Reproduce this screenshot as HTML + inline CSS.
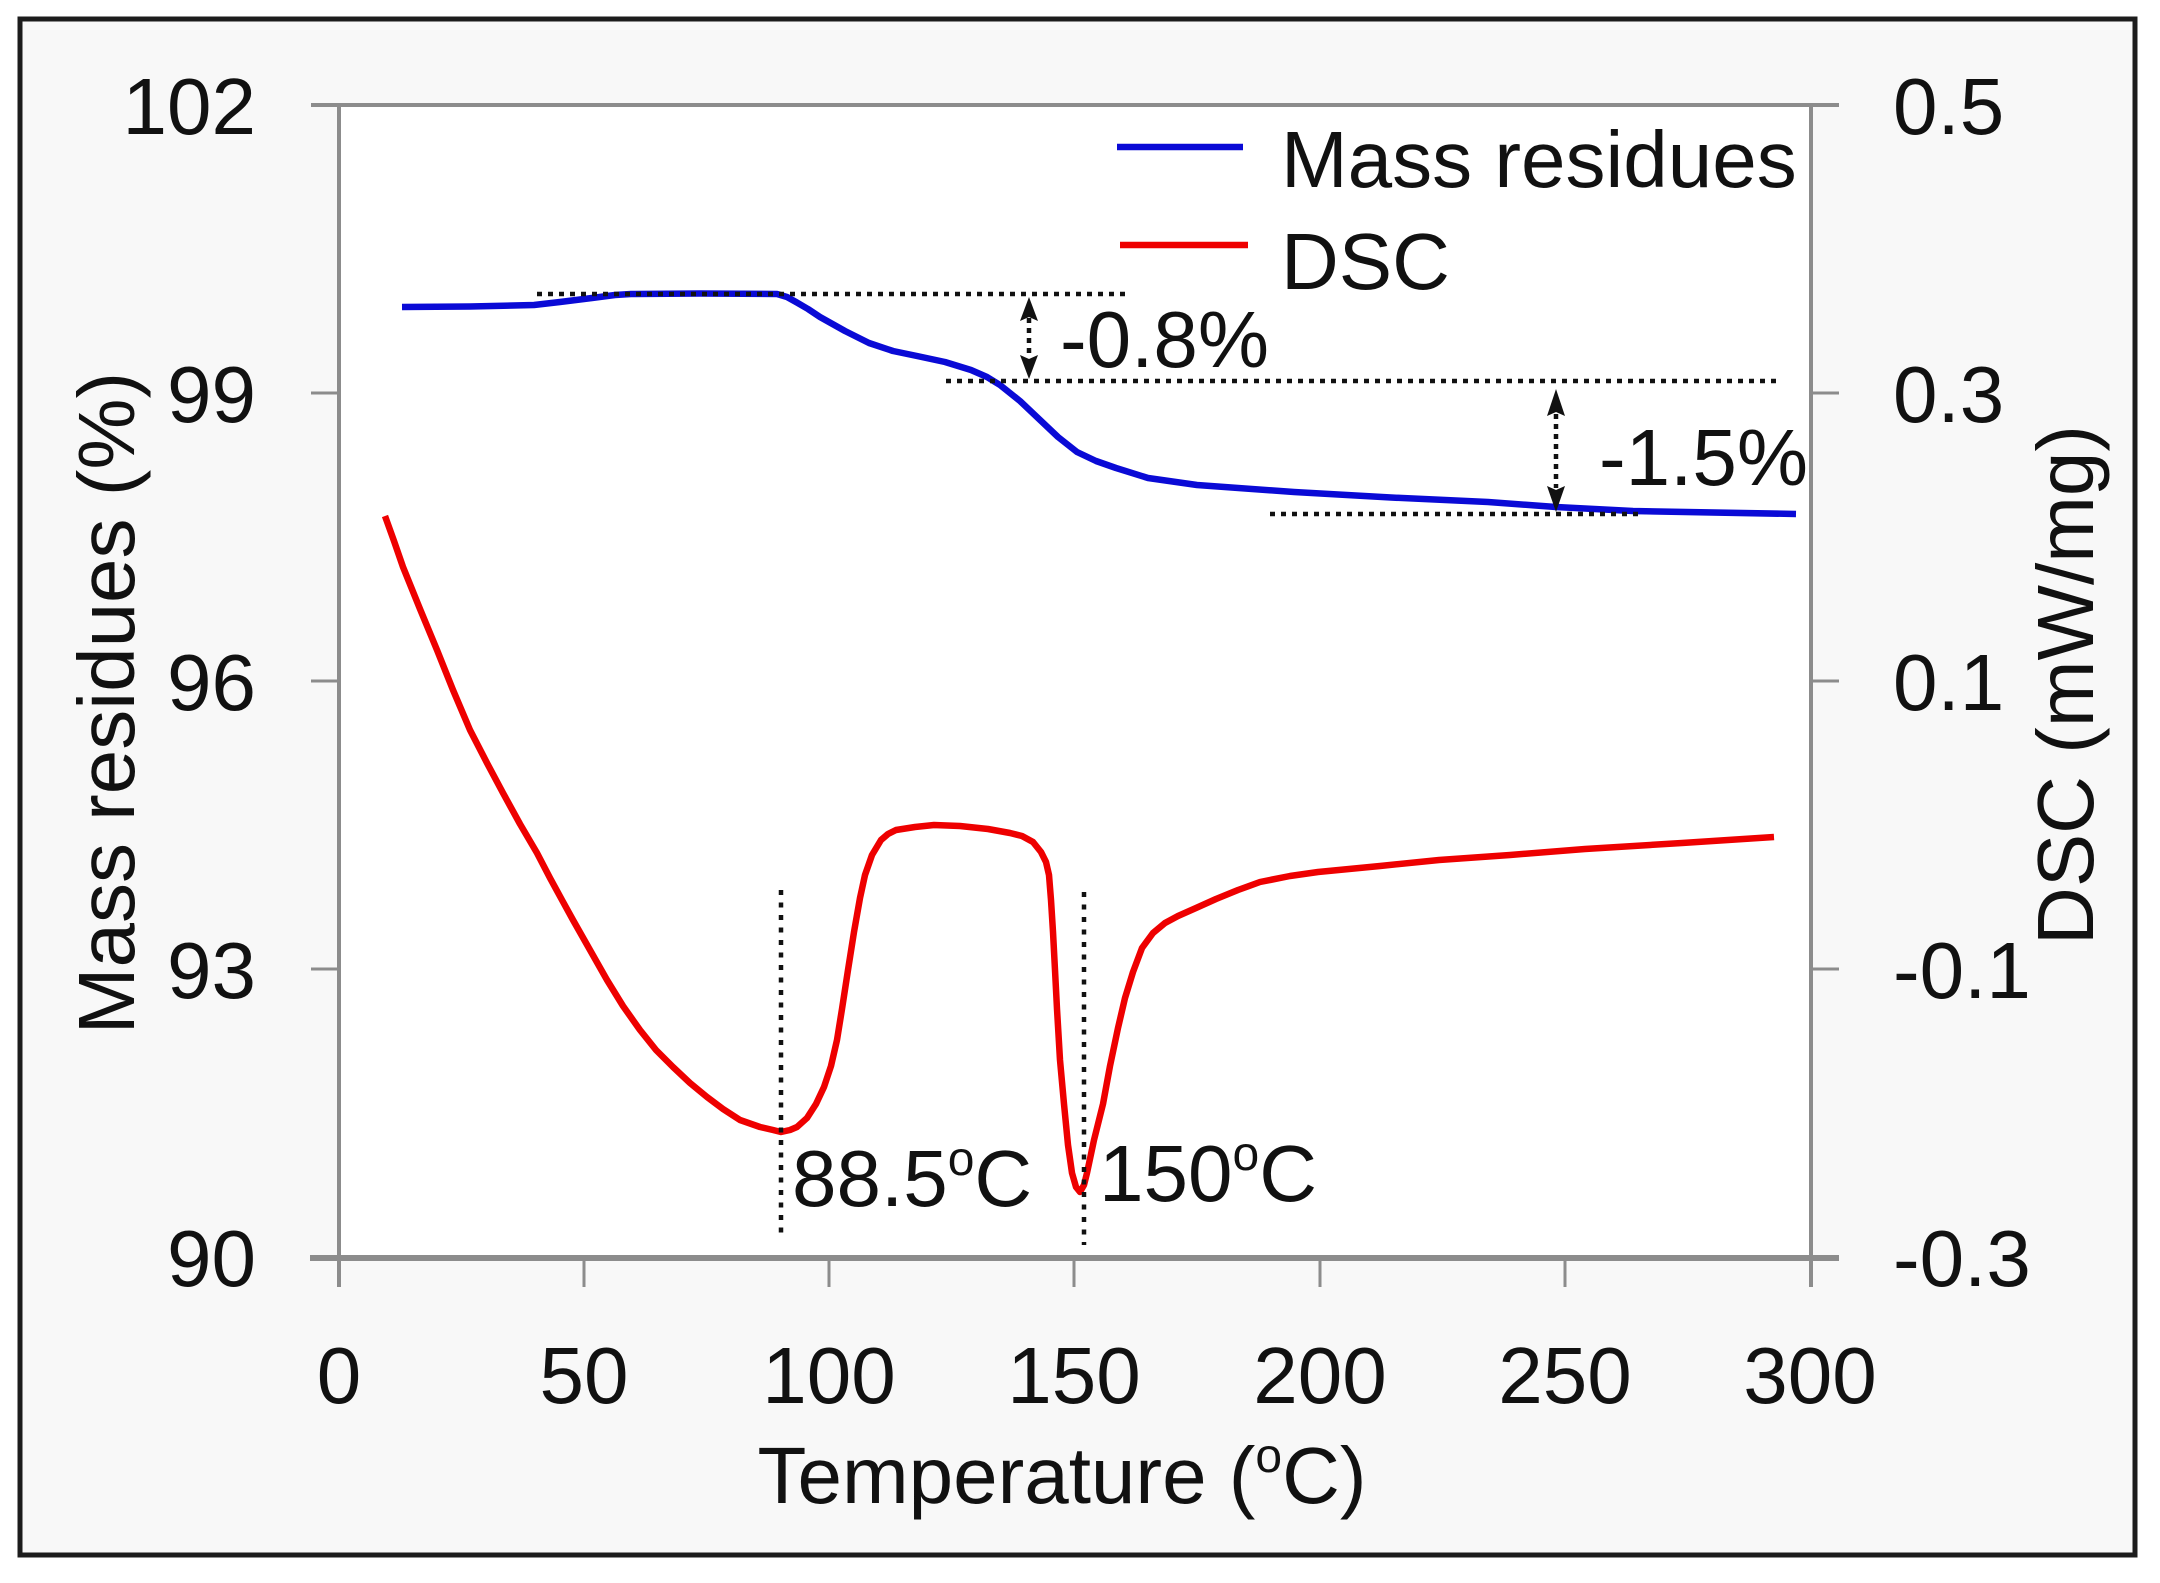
<!DOCTYPE html>
<html>
<head>
<meta charset="utf-8">
<style>
  html,body{margin:0;padding:0;background:#ffffff;}
  svg{display:block;}
  text{font-family:"Liberation Sans", Arial, sans-serif; fill:#111;}
</style>
</head>
<body>
<svg width="2160" height="1583" viewBox="0 0 2160 1583" xmlns="http://www.w3.org/2000/svg">
  <!-- outer frame -->
  <rect x="0" y="0" width="2160" height="1583" fill="#ffffff"/>
  <rect x="20" y="19" width="2115" height="1536" fill="#f8f8f8" stroke="#1c1c1c" stroke-width="5"/>
  <!-- plot area -->
  <rect x="339" y="105" width="1472" height="1153" fill="#ffffff"/>

  <!-- axes -->
  <g stroke="#8c8c8c" fill="none">
    <line x1="311" y1="105" x2="1839" y2="105" stroke-width="4"/>
    <line x1="339" y1="105" x2="339" y2="1287" stroke-width="4"/>
    <line x1="1811" y1="105" x2="1811" y2="1287" stroke-width="4"/>
    <line x1="310" y1="1258" x2="1839" y2="1258" stroke-width="6"/>
    <!-- left ticks -->
    <line x1="311" y1="393" x2="339" y2="393" stroke-width="3"/>
    <line x1="311" y1="681" x2="339" y2="681" stroke-width="3"/>
    <line x1="311" y1="969" x2="339" y2="969" stroke-width="3"/>
    <!-- right ticks -->
    <line x1="1811" y1="393" x2="1839" y2="393" stroke-width="3"/>
    <line x1="1811" y1="681" x2="1839" y2="681" stroke-width="3"/>
    <line x1="1811" y1="969" x2="1839" y2="969" stroke-width="3"/>
    <!-- x ticks -->
    <line x1="584" y1="1258" x2="584" y2="1287" stroke-width="3"/>
    <line x1="829" y1="1258" x2="829" y2="1287" stroke-width="3"/>
    <line x1="1074" y1="1258" x2="1074" y2="1287" stroke-width="3"/>
    <line x1="1320" y1="1258" x2="1320" y2="1287" stroke-width="3"/>
    <line x1="1565" y1="1258" x2="1565" y2="1287" stroke-width="3"/>
  </g>

  <!-- left tick labels -->
  <g font-size="80" text-anchor="end">
    <text x="256" y="134">102</text>
    <text x="256" y="422">99</text>
    <text x="256" y="710">96</text>
    <text x="256" y="998">93</text>
    <text x="256" y="1286">90</text>
  </g>
  <!-- right tick labels -->
  <g font-size="80" text-anchor="start">
    <text x="1893" y="134">0.5</text>
    <text x="1893" y="422">0.3</text>
    <text x="1893" y="710">0.1</text>
    <text x="1893" y="998">-0.1</text>
    <text x="1893" y="1286">-0.3</text>
  </g>
  <!-- x tick labels -->
  <g font-size="80" text-anchor="middle">
    <text x="339" y="1403">0</text>
    <text x="584" y="1403">50</text>
    <text x="829" y="1403">100</text>
    <text x="1074" y="1403">150</text>
    <text x="1320" y="1403">200</text>
    <text x="1565" y="1403">250</text>
    <text x="1810" y="1403">300</text>
  </g>

  <!-- axis titles -->
  <text font-size="80" text-anchor="middle" x="1062" y="1503">Temperature (<tspan font-size="48" dy="-31">o</tspan><tspan dy="31">C)</tspan></text>
  <text font-size="80" text-anchor="middle" transform="translate(134,703) rotate(-90)" x="0" y="0">Mass residues (%)</text>
  <text font-size="80" text-anchor="middle" transform="translate(2093,685) rotate(-90)" x="0" y="0">DSC (mW/mg)</text>

  <!-- blue mass curve -->
  <polyline fill="none" stroke="#0a0ad6" stroke-width="6.5" stroke-linejoin="round" stroke-linecap="butt"
    points="402,307 470,306.5 534,305 560,302 592,298 615,295 631,294 700,293.5 777,294 787,297 796,302 808,309 820,317 845,331 869,343 893,351 917,356 945,362 971,370 987,377 1000,385 1020,401 1039,419 1058,437 1077,452 1096,461 1116,468 1148,478 1197,485 1294,492 1391,497.5 1488,502 1556,507 1633,511 1796,514"/>

  <!-- red DSC curve -->
  <polyline fill="none" stroke="#ee0000" stroke-width="6.5" stroke-linejoin="round" stroke-linecap="butt"
    points="385,516 394,541 403,567 420,609 437,650 453,690 470,730 487,763 503,793 520,824 537,853 550,878 562,900 573,920 590,950 607,980 623,1006 640,1030 656,1050 673,1067 690,1083 707,1097 723,1109 740,1120 760,1127 773,1130 781,1132 790,1130 797,1127 807,1118 816,1104 824,1087 831,1066 837,1040 842,1009 848,970 854,932 860,898 865,875 872,855 881,840 888,834 896,830 915,827 934,825 960,826 988,829 1010,833 1022,836 1033,842 1041,852 1046,862 1049,875 1051,900 1053,932 1055,970 1057,1009 1060,1060 1064,1104 1068,1145 1072,1173 1076,1187 1080,1192 1084,1185 1087,1173 1094,1140 1103,1104 1110,1066 1118,1028 1125,998 1133,972 1142,948 1153,933 1165,923 1178,916 1196,908 1216,899 1238,890 1260,882 1290,876 1318,872 1380,866 1439,860 1510,855 1585,849 1682,843 1774,837"/>

  <!-- dotted guide lines -->
  <g stroke="#111" stroke-width="4.5" fill="none">
    <line x1="537" y1="294" x2="1131" y2="294" stroke-dasharray="5 6"/>
    <line x1="946" y1="381" x2="1776" y2="381" stroke-dasharray="5 6"/>
    <line x1="1270" y1="514" x2="1640" y2="514" stroke-dasharray="5 6"/>
    <line x1="781" y1="890" x2="781" y2="1240" stroke-dasharray="5 7.5"/>
    <line x1="1084" y1="892" x2="1084" y2="1245" stroke-dasharray="5 7.5"/>
    <!-- arrow shafts -->
    <line x1="1029" y1="318" x2="1029" y2="358" stroke-dasharray="5 5"/>
    <line x1="1556" y1="414" x2="1556" y2="488" stroke-dasharray="5 5"/>
  </g>
  <!-- arrowheads -->
  <g fill="#111">
    <polygon points="1029,297 1038,321 1029,317 1020,321"/>
    <polygon points="1029,379 1038,355 1029,359 1020,355"/>
    <polygon points="1556,389 1565,416 1556,412 1547,416"/>
    <polygon points="1556,512 1565,486 1556,490 1547,486"/>
  </g>

  <!-- annotations -->
  <g font-size="80">
    <text x="1060" y="367">-0.8%</text>
    <text x="1599" y="485">-1.5%</text>
    <text x="792" y="1206">88.5<tspan font-size="48" dy="-31">o</tspan><tspan dy="31">C</tspan></text>
    <text x="1099" y="1201">150<tspan font-size="48" dy="-31">o</tspan><tspan dy="31">C</tspan></text>
  </g>

  <!-- legend -->
  <line x1="1117" y1="147" x2="1243" y2="147" stroke="#0a0ad6" stroke-width="6.5"/>
  <line x1="1120" y1="245" x2="1248" y2="245" stroke="#ee0000" stroke-width="6.5"/>
  <g font-size="80">
    <text x="1281" y="187">Mass residues</text>
    <text x="1281" y="289">DSC</text>
  </g>
</svg>
</body>
</html>
